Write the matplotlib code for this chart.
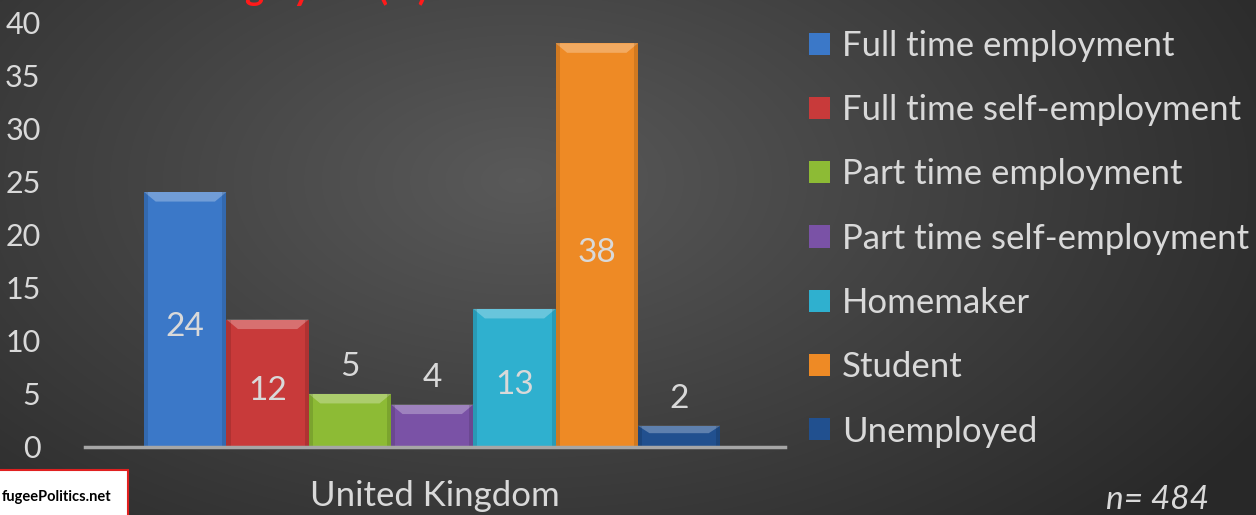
import matplotlib.pyplot as plt
import numpy as np
from matplotlib.patches import Patch, Polygon, Rectangle

categories = ["Full time employment", "Full time self-employment", "Part time employment",
              "Part time self-employment", "Homemaker", "Student", "Unemployed"]
values = [24, 12, 5, 4, 13, 38, 2]
colors = ["#3b78c8", "#c83a3a", "#8dbb35", "#7a52a6", "#2fb0cf", "#ee8a25", "#21508f"]
group = "United Kingdom"
yticks = [0, 5, 10, 15, 20, 25, 30, 35, 40]

plt.rcParams['font.family'] = ['Lato', 'DejaVu Sans']
txt = "#d9d9d9"

fig = plt.figure(figsize=(12.56, 5.15), dpi=100)

# dark radial background
bg = fig.add_axes([0, 0, 1, 1])
yy, xx = np.mgrid[0:515, 0:1256]
r = np.sqrt(((xx - 520) / 900.0) ** 2 + ((yy - 180) / 520.0) ** 2)
shade = np.clip(0.35 - 0.20 * r, 0.16, 0.36)
bg.imshow(np.dstack([shade] * 3), aspect='auto', extent=[0, 1, 0, 1])
bg.axis('off')

ax = fig.add_axes([85 / 1256, 1 - 447 / 515, 700 / 1256, 425 / 515])
ax.patch.set_alpha(0)

w = 82.3 / 700
n = len(values)
xs = (np.arange(n) - (n - 1) / 2) * w - 0.004
bars = ax.bar(xs, values, width=w, color=colors, edgecolor='none', zorder=2)

# bevel on top of each bar
for b, c in zip(bars, colors):
    x0, bw, h = b.get_x(), b.get_width(), b.get_height()
    dy = min(0.9, h * 0.35)
    dx = bw * 0.14
    top = Polygon([(x0, h), (x0 + bw, h), (x0 + bw - dx, h - dy), (x0 + dx, h - dy)],
                  closed=True, facecolor='white', alpha=0.28, edgecolor='none', zorder=3)
    ax.add_patch(top)
    ax.add_patch(Rectangle((x0, 0), bw * 0.05, h, facecolor='black', alpha=0.12,
                           edgecolor='none', zorder=3))
    ax.add_patch(Rectangle((x0 + bw * 0.95, 0), bw * 0.05, h, facecolor='black', alpha=0.12,
                           edgecolor='none', zorder=3))

for x, v in zip(xs, values):
    y = v / 2 - 0.7 if v >= 10 else v + 2.5
    ax.text(x, y, str(v), ha='center', va='center', color=txt, fontsize=24, zorder=4)

ax.set_xlim(-0.5, 0.5)
ax.set_ylim(0, 40)
ax.set_yticks(yticks)
ax.set_xticks([0])
ax.set_xticklabels([group])
ax.tick_params(axis='both', length=0, colors=txt, labelsize=22)
ax.tick_params(axis='x', pad=24, labelsize=25)
ax.tick_params(axis='y', pad=32)
for s in ['top', 'right', 'left']:
    ax.spines[s].set_visible(False)
ax.spines['bottom'].set_color('#a6a6a6')
ax.spines['bottom'].set_linewidth(2.5)
ax.spines['bottom'].set_zorder(5)

handles = [Patch(facecolor=c, edgecolor='none') for c in colors]
leg = fig.legend(handles, categories, loc='upper left', bbox_to_anchor=(795 / 1256, 1 - 16 / 515),
                 frameon=False, fontsize=25, handlelength=0.6, handleheight=0.6,
                 handletextpad=0.35, labelspacing=0.93, borderaxespad=0)
for t in leg.get_texts():
    t.set_color(txt)

# clipped title at the very top
fig.text(245 / 1256, 1 + 0.5 / 515, "before leavin", ha='right', va='baseline',
         color='white', fontsize=26, fontweight='bold')
fig.text(245 / 1256, 1 + 0.5 / 515, "g Syria? (%)", ha='left', va='baseline',
         color='#ff1a1a', fontsize=26, fontweight='bold')

fig.text(1158 / 1256, 1 - 500 / 515, "n= 484", ha='center', va='center', color=txt,
         fontsize=24, style='italic')

# source logo box
fig.patches.append(Rectangle((-2 / 1256, -5 / 515), 130 / 1256, 50 / 515, transform=fig.transFigure,
                             facecolor='white', edgecolor='#e02020', linewidth=1.5, zorder=10))
fig.text(2 / 1256, 1 - 497 / 515, "fugeePolitics.net", ha='left', va='center', color='black',
         fontsize=10.5, fontweight='bold', zorder=11)

fig.savefig("out.png", dpi=100)
